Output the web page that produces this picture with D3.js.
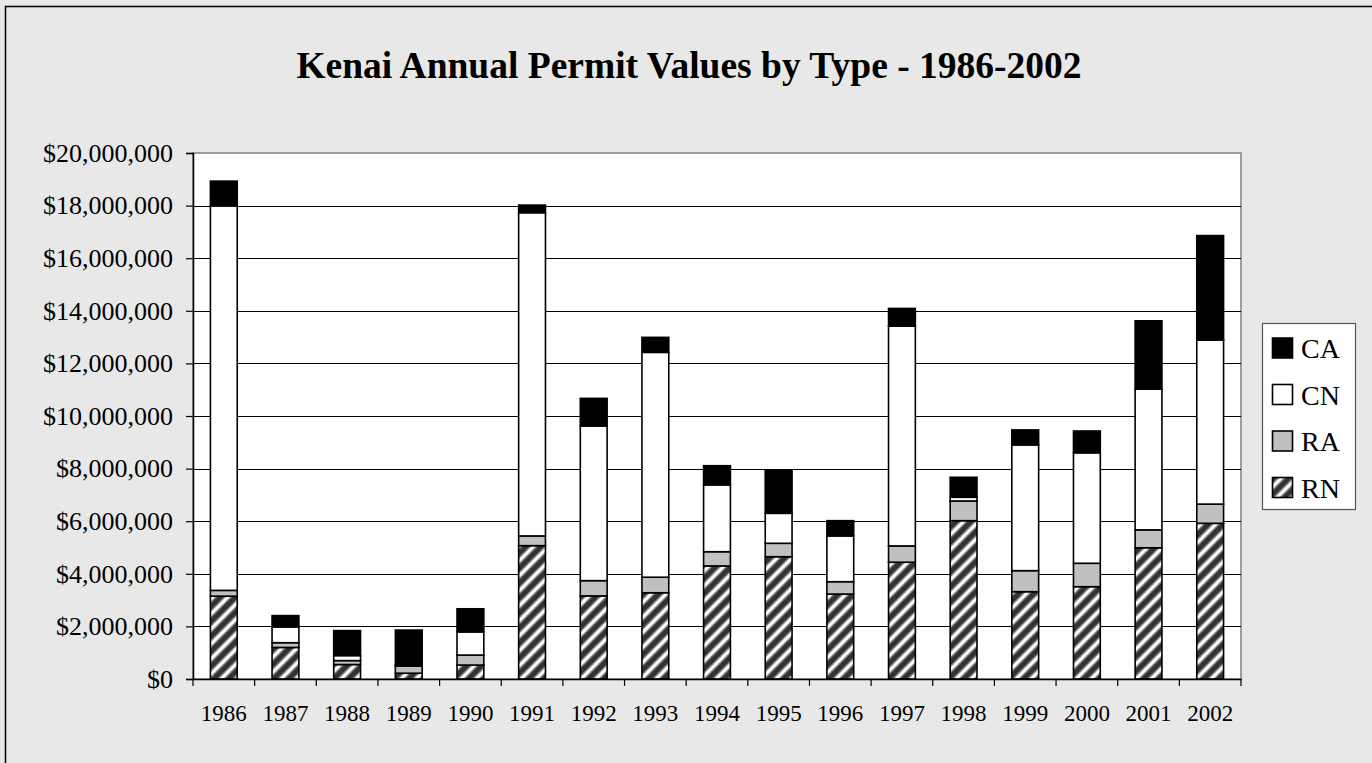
<!DOCTYPE html>
<html>
<head>
<meta charset="utf-8">
<script src="https://cdn.jsdelivr.net/npm/d3@7/dist/d3.min.js"></script>
<style>
  html, body { margin: 0; padding: 0; background: #e8e8e8; }
  svg { display: block; }
  text { font-family: "Liberation Serif", "Times New Roman", Times, serif; fill: #000; }
</style>
</head>
<body>
<svg id="chart" width="1372" height="763"></svg>
<script>
// Kenai annual permit values by type, 1986-2002 (dollars)
const years = ["1986","1987","1988","1989","1990","1991","1992","1993","1994","1995","1996","1997","1998","1999","2000","2001","2002"];
const seriesNames = ["RN", "RA", "CN", "CA"];
const RN = [3150000, 1200000, 550000, 220000, 530000, 5070000, 3160000, 3280000, 4300000, 4650000, 3230000, 4440000, 6020000, 3320000, 3510000, 4990000, 5920000];
const RA = [220000, 180000, 150000, 270000, 380000, 370000, 580000, 590000, 540000, 510000, 470000, 620000, 750000, 800000, 890000, 680000, 730000];
const CN = [14620000, 600000, 190000, 50000, 880000, 12290000, 5880000, 8550000, 2540000, 1140000, 1740000, 8360000, 140000, 4780000, 4200000, 5350000, 6240000];
const CA = [940000, 430000, 950000, 1320000, 880000, 290000, 1050000, 570000, 730000, 1620000, 580000, 670000, 760000, 570000, 830000, 2600000, 3970000];
const yTicks = [0, 2000000, 4000000, 6000000, 8000000, 10000000, 12000000, 14000000, 16000000, 18000000, 20000000];
const title = "Kenai Annual Permit Values by Type - 1986-2002";

const table = years.map((yr, i) => ({ year: yr, RN: RN[i], RA: RA[i], CN: CN[i], CA: CA[i] }));

const svg = d3.select("#chart");
const plot = { left: 193, right: 1241, top: 153, bottom: 679 };
const serif = "'Liberation Serif', 'Times New Roman', serif";

const fills = { RN: "url(#hatch)", RA: "#c0c0c0", CN: "#ffffff", CA: "#000000" };

// hatch pattern for RN: dark ground with soft white upward diagonals
const defs = svg.append("defs");
const P = 15;
const pat = defs.append("pattern")
  .attr("id", "hatch")
  .attr("patternUnits", "userSpaceOnUse")
  .attr("width", P).attr("height", P);
pat.append("rect").attr("width", P).attr("height", P).attr("fill", "#333333");
[[-P / 2, P / 2, P / 2, -P / 2], [0, P, P, 0], [P / 2, P * 1.5, P * 1.5, P / 2]].forEach(([x1, y1, x2, y2]) => {
  pat.append("line").attr("x1", x1).attr("y1", y1).attr("x2", x2).attr("y2", y2)
    .attr("stroke", "#7a7a7a").attr("stroke-width", 6);
  pat.append("line").attr("x1", x1).attr("y1", y1).attr("x2", x2).attr("y2", y2)
    .attr("stroke", "#d8d8d8").attr("stroke-width", 3.6);
  pat.append("line").attr("x1", x1).attr("y1", y1).attr("x2", x2).attr("y2", y2)
    .attr("stroke", "#ffffff").attr("stroke-width", 2);
});

// chart background and frame
svg.append("rect").attr("x", 5.5).attr("y", 6.5).attr("width", 1400).attr("height", 800)
  .attr("fill", "#e8e8e8").attr("stroke", "#000").attr("stroke-width", 1.5);

// plot area
svg.append("rect")
  .attr("x", plot.left).attr("y", plot.top)
  .attr("width", plot.right - plot.left).attr("height", plot.bottom - plot.top)
  .attr("fill", "#ffffff").attr("stroke", "#808080").attr("stroke-width", 1.5);

const x = d3.scaleBand().domain(years).range([plot.left, plot.right])
  .paddingInner(0.565).paddingOuter(0.2825);
const y = d3.scaleLinear().domain([0, 20000000]).range([plot.bottom, plot.top]);

// gridlines
svg.append("g")
  .attr("transform", `translate(${plot.left},0)`)
  .call(d3.axisLeft(y).tickValues(yTicks.slice(1, -1)).tickSize(-(plot.right - plot.left)).tickFormat(""))
  .call(g => g.select(".domain").remove())
  .call(g => g.selectAll("line").attr("stroke", "#000").attr("stroke-width", 1).attr("shape-rendering", "crispEdges"));

// stacked bars
const stack = d3.stack().keys(seriesNames)(table);
svg.append("g").selectAll("g").data(stack).join("g")
  .attr("fill", d => fills[d.key])
  .selectAll("rect").data(d => d).join("rect")
  .attr("x", d => x(d.data.year))
  .attr("y", d => y(d[1]))
  .attr("width", x.bandwidth())
  .attr("height", d => y(d[0]) - y(d[1]))
  .attr("stroke", "#000").attr("stroke-width", 1.6);

// y axis
const fmt = d3.format(",");
svg.append("g")
  .attr("transform", `translate(${plot.left},0)`)
  .call(d3.axisLeft(y).tickValues(yTicks).tickSize(7).tickPadding(13).tickFormat(d => "$" + fmt(d)))
  .call(g => g.select(".domain").attr("stroke", "#000").attr("stroke-width", 1.5))
  .call(g => g.selectAll(".tick line").attr("stroke", "#000").attr("stroke-width", 1.2))
  .call(g => g.selectAll("text").style("font-size", "26px").style("font-family", serif).attr("fill", "#000"));

// x axis: labels centred on bars, ticks on category boundaries
const xAxis = svg.append("g").attr("transform", `translate(0,${plot.bottom})`);
xAxis.call(d3.axisBottom(x).tickSize(0).tickPadding(26))
  .call(g => g.select(".domain").attr("stroke", "#000").attr("stroke-width", 1.5))
  .call(g => g.selectAll("text").style("font-size", "23px").style("font-family", serif).attr("fill", "#000"));
const boundaries = d3.range(years.length + 1).map(i =>
  i < years.length ? x(years[i]) - x.step() * x.paddingInner() / 2 : x(years[i - 1]) + x.bandwidth() + x.step() * x.paddingInner() / 2);
xAxis.selectAll("line.bound").data(boundaries).join("line")
  .attr("class", "bound")
  .attr("x1", d => d).attr("x2", d => d).attr("y1", 0).attr("y2", 7)
  .attr("stroke", "#000").attr("stroke-width", 1.2);

// title
svg.append("text")
  .attr("x", 689).attr("y", 78)
  .attr("text-anchor", "middle")
  .style("font-size", "37.5px").style("font-weight", "bold")
  .text(title);

// legend
const legendKeys = seriesNames.slice().reverse();
const lg = svg.append("g").attr("transform", "translate(1262,323)");
lg.append("rect").attr("x", 0.5).attr("y", 0.5).attr("width", 93).attr("height", 186)
  .attr("fill", "#ffffff").attr("stroke", "#555").attr("stroke-width", 1.2);
const items = lg.selectAll("g.item").data(legendKeys).join("g")
  .attr("class", "item")
  .attr("transform", (d, i) => `translate(10,${25 + i * 46.5})`);
items.append("rect")
  .attr("x", 0.5).attr("y", -10).attr("width", 20).attr("height", 20)
  .attr("fill", d => fills[d]).attr("stroke", "#000").attr("stroke-width", 1.6);
items.append("text")
  .attr("x", 29).attr("y", 10)
  .style("font-size", "28px")
  .text(d => d);
</script>
</body>
</html>
